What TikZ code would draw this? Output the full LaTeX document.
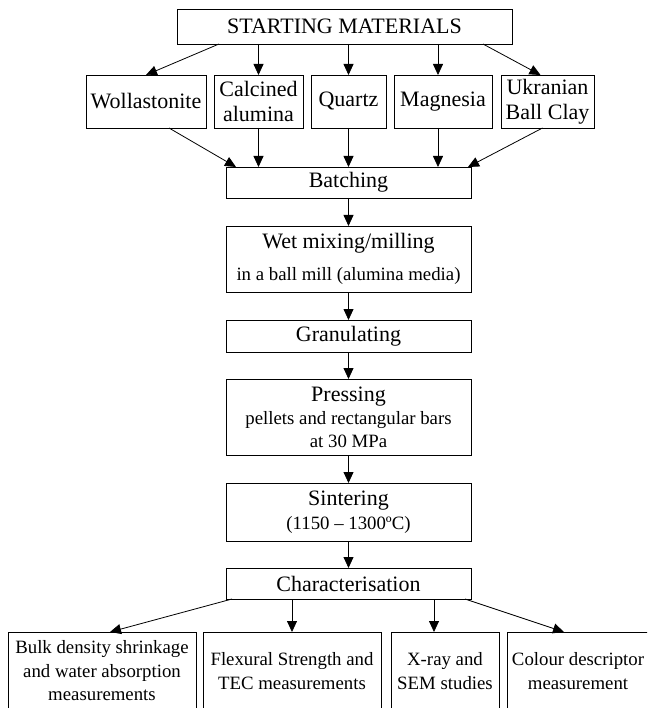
\documentclass[tikz,border=0pt]{standalone}
\usepackage{fontspec}
\setmainfont{Liberation Serif}
\usetikzlibrary{positioning,arrows.meta}

\newcommand\mainsz{\fontsize{22}{25}\selectfont}
\newcommand\subsz{\fontsize{18.8}{23}\selectfont}

\begin{document}
\begin{tikzpicture}[
  x=1pt, y=-1pt,
  font=\mainsz,
  every node/.style={align=center},
  box/.style  ={rectangle, draw=black, line width=0.9pt, inner sep=2pt, outer sep=0pt},
  mat/.style  ={box, minimum height=53pt},
  proc/.style ={box, minimum width=245pt},
  meas/.style ={box, font=\fontsize{18.8}{23.5}\selectfont, minimum height=78pt},
  arr/.style  ={draw=black, line width=0.8pt, -{Triangle[length=11pt,width=10pt]}},
]
\useasboundingbox (0,0) rectangle (647,708);
\clip (0,0) rectangle (647,708);

% --- Matieres premieres ---
\node[box, minimum width=335pt, minimum height=35pt] (start) at (344.5,26.5) {STARTING MATERIALS};

\node[mat, minimum width=75pt, below=31pt of start, xshift=4pt] (qua) {Quartz};
\node[mat, minimum width=89pt, left=8pt of qua]  (cal) {Calcined\\alumina};
\node[mat, minimum width=120pt, left=8pt of cal] (wol) {Wollastonite};
\node[mat, minimum width=98pt, right=8pt of qua] (mag) {Magnesia};
\node[mat, minimum width=93pt, right=9pt of mag] (ukr) {Ukranian\\Ball Clay};

% --- Etapes du procede ---
\node[proc, minimum height=31pt, below=39pt of qua]   (batch) {Batching};
\node[proc, minimum height=66pt, below=28pt of batch] (wet)
  {Wet mixing/milling\\[7pt]{\subsz in a ball mill (alumina media)}};
\node[proc, minimum height=32pt, below=28pt of wet]   (gran)  {Granulating};
\node[proc, minimum height=76pt, below=27pt of gran]  (press)
  {Pressing\\[-2pt]{\subsz pellets and rectangular bars}\\[-2pt]{\subsz at 30 MPa}};
\node[proc, minimum height=58pt, below=28pt of press] (sint)
  {Sintering\\[-1pt]{\subsz (1150 – 1300ºC)}};
\node[proc, minimum height=31pt, below=27pt of sint]  (char)  {Characterisation};

% --- Mesures ---
\node[meas, minimum width=178pt, below=33pt of char, xshift=-56.5pt] (flex)
  {Flexural Strength and\\TEC measurements};
\node[meas, minimum width=188pt, left=7pt of flex]   (bulk)
  {Bulk density shrinkage\\and water absorption\\measurements};
\node[meas, minimum width=108pt, right=10pt of flex] (xray) {X-ray and\\SEM studies};
\node[meas, minimum width=142pt, right=8pt of xray]  (colour) {Colour descriptor\\measurement};

% --- Fleches ---
\draw[arr] ([xshift=42pt]start.south west) -- (wol.north);
\draw[arr] (start.south -| cal.north) -- (cal.north);
\draw[arr] (start.south -| qua.north) -- (qua.north);
\draw[arr] ([xshift=-5pt]mag.north |- start.south) -- ([xshift=-5pt]mag.north);
\draw[arr] ([xshift=-29pt]start.south east) -- ([xshift=-7pt]ukr.north);

\draw[arr] ([xshift=23pt]wol.south) -- ([xshift=10pt]batch.north west);
\draw[arr] (cal.south) -- (cal.south |- batch.north);
\draw[arr] (qua.south) -- (qua.south |- batch.north);
\draw[arr] ([xshift=-5pt]mag.south) -- ([xshift=-5pt]mag.south |- batch.north);
\draw[arr] ([xshift=-5pt]ukr.south) -- ([xshift=-3pt]batch.north east);

\draw[arr] (batch.south) -- (wet.north);
\draw[arr] (wet.south)   -- (gran.north);
\draw[arr] (gran.south)  -- (press.north);
\draw[arr] (press.south) -- (sint.north);
\draw[arr] (sint.south)  -- (char.north);

\draw[arr] ([xshift=6pt]char.south west) -- ([xshift=8pt]bulk.north);
\draw[arr] (char.south -| flex.north) -- (flex.north);
\draw[arr] ([xshift=-11pt]xray.north |- char.south) -- ([xshift=-11pt]xray.north);
\draw[arr] ([xshift=-6pt]char.south east) -- ([xshift=-14pt]colour.north);

\end{tikzpicture}
\end{document}
